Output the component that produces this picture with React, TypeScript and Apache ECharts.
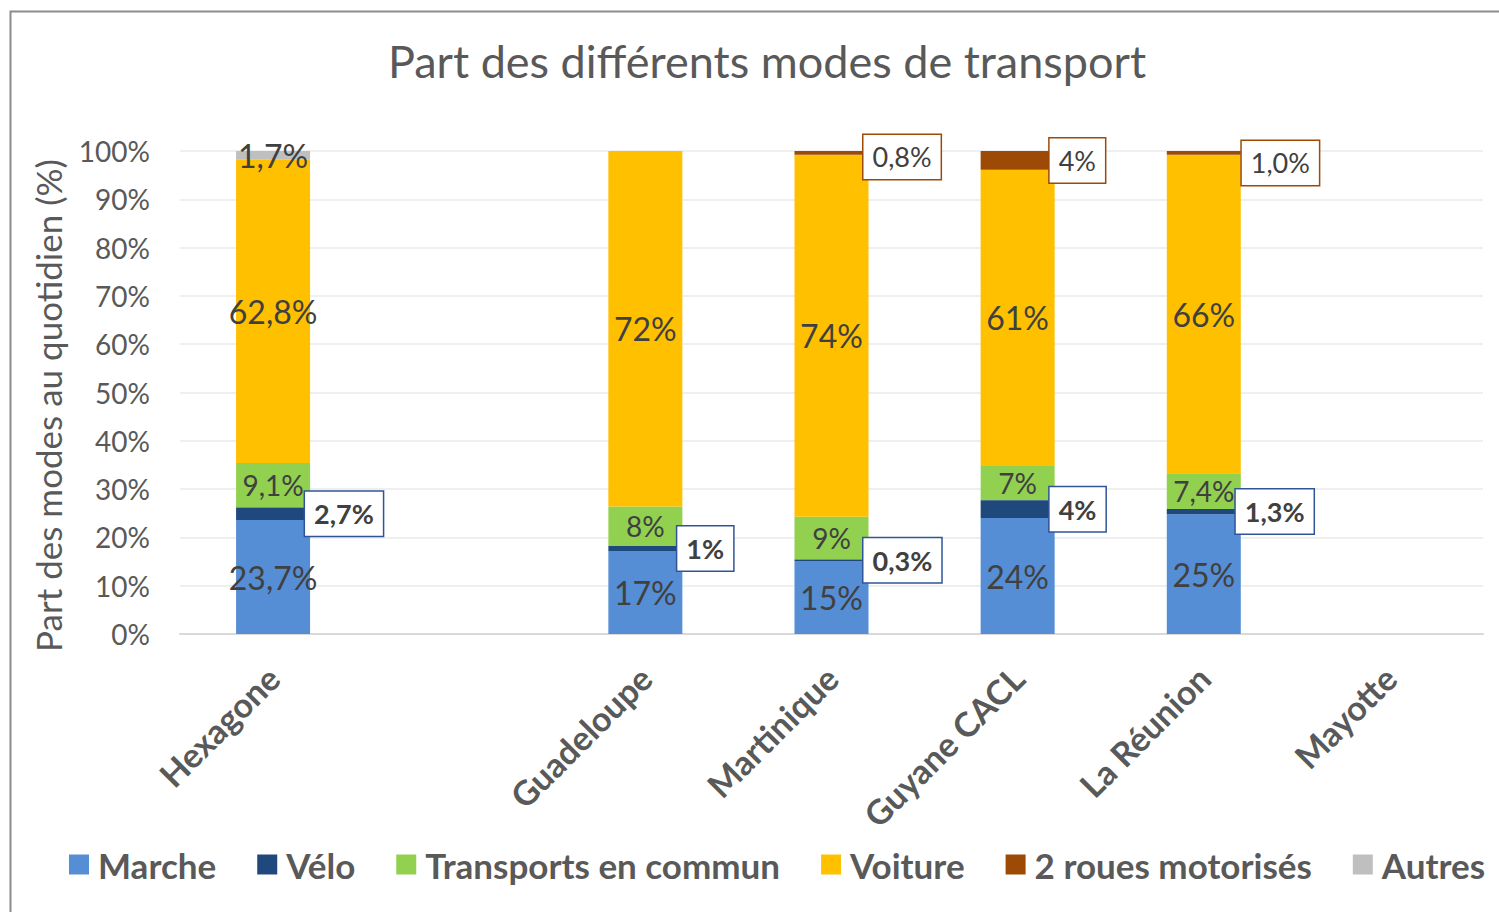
import React, { useEffect, useRef } from "react";
import * as echarts from "echarts";

const categories = ["Hexagone", "", "Guadeloupe", "Martinique", "Guyane CACL", "La Réunion", "Mayotte"];
const seriesNames = ["Marche", "Vélo", "Transports en commun", "Voiture", "2 roues motorisés", "Autres"];

const marche = [23.6, null, 17.2, 15.1, 24.0, 24.8, null];
const velo = [2.6, null, 1.0, 0.3, 3.7, 1.1, null];
const transports = [9.2, null, 8.2, 8.9, 7.1, 7.4, null];
const voiture = [62.9, null, 73.6, 74.9, 61.3, 65.9, null];
const deuxRoues = [null, null, null, 0.8, 3.9, 0.8, null];
const autres = [1.7, null, null, null, null, null, null];

const marcheLabels = ["23,7%", "", "17%", "15%", "24%", "25%", ""];
const veloLabels = ["2,7%", "", "1%", "0,3%", "4%", "1,3%", ""];
const transportsLabels = ["9,1%", "", "8%", "9%", "7%", "7,4%", ""];
const voitureLabels = ["62,8%", "", "72%", "74%", "61%", "66%", ""];
const deuxRouesLabels = ["", "", "", "0,8%", "4%", "1,0%", ""];
const autresLabels = ["1,7%", "", "", "", "", "", ""];

const yTicks = [0, 10, 20, 30, 40, 50, 60, 70, 80, 90, 100];

const colors = ["#558ED5", "#1F497D", "#92D050", "#FFC000", "#9C4A06", "#BFBFBF"];
const FONT = "Lato";

export default function App() {
  const ref = useRef<HTMLDivElement>(null);
  useEffect(() => {
    document.body.style.margin = "0";
    const chart = echarts.init(ref.current!, undefined, { renderer: "svg" });
    const fmt = (arr: string[]) => (p: any) => arr[p.dataIndex] || "";
    const inside = (arr: string[], size: number) => ({
      show: true,
      position: "inside",
      formatter: fmt(arr),
      fontFamily: FONT,
      fontSize: size,
      color: "#404040",
    });
    const boxed = (arr: string[], border: string, bold: boolean) => ({
      show: true,
      position: "right",
      distance: -5,
      formatter: fmt(arr),
      fontFamily: FONT,
      fontSize: 27,
      fontWeight: bold ? "bold" : "normal",
      color: "#404040",
      backgroundColor: "#ffffff",
      borderColor: border,
      borderWidth: 1.5,
      padding: [9, 9, 8, 9],
    });
    const values = [marche, velo, transports, voiture, deuxRoues, autres];
    const labels = [
      inside(marcheLabels, 32),
      boxed(veloLabels, "#2F5597", true),
      inside(transportsLabels, 28),
      inside(voitureLabels, 32),
      boxed(deuxRouesLabels, "#9C4A06", false),
      inside(autresLabels, 32),
    ];
    // manual label nudges (2 roues motorisés), as in the original layout
    const nudges: Record<number, number[]> = { 3: [0, 4], 5: [6, 10] };
    chart.setOption({
      animation: false,
      color: colors,
      title: {
        text: "Part des différents modes de transport",
        left: 762,
        top: 33,
        textAlign: "center",
        textStyle: { fontFamily: FONT, fontSize: 45, fontWeight: "normal", color: "#595959" },
      },
      graphic: [
        {
          type: "rect",
          shape: { x: 10.5, y: 11.5, width: 1500, height: 910 },
          style: { fill: "none", stroke: "#8C8C8C", lineWidth: 2 },
          silent: true,
        },
      ],
      legend: {
        data: seriesNames,
        left: 64,
        top: 842,
        itemWidth: 20,
        itemHeight: 20,
        itemGap: 41,
        icon: "rect",
        textStyle: { fontFamily: FONT, fontSize: 35, fontWeight: "bold", color: "#595959", padding: [0, 0, 0, 4] },
      },
      grid: { left: 180, right: 16, top: 151, bottom: 278 },
      xAxis: {
        type: "category",
        data: categories,
        axisLine: { lineStyle: { color: "#D9D9D9", width: 2 } },
        axisTick: { show: false },
        axisLabel: {
          rotate: 45,
          interval: 0,
          margin: 38,
          fontFamily: FONT,
          fontSize: 34,
          fontWeight: "bold",
          color: "#595959",
        },
      },
      yAxis: {
        type: "value",
        min: 0,
        max: 100,
        interval: 10,
        name: "Part des modes au quotidien (%)",
        nameLocation: "middle",
        nameGap: 115,
        nameTextStyle: { fontFamily: FONT, fontSize: 35, color: "#595959", padding: [0, 26, 0, 0] },
        axisLabel: {
          margin: 30,
          fontFamily: FONT,
          fontSize: 28,
          color: "#595959",
          formatter: (v: number) => (yTicks.includes(v) ? v + "%" : ""),
        },
        splitLine: { lineStyle: { color: "#EFEFEF", width: 2 } },
      },
      series: seriesNames.map((name, i) => ({
        name,
        type: "bar",
        stack: "total",
        barWidth: 74,
        data: values[i].map((v, j) =>
          i === 4 && nudges[j] ? { value: v, label: { offset: nudges[j] } } : v
        ),
        label: labels[i],
        z: i === 1 || i === 4 ? 3 : 2,
      })),
    });
    return () => chart.dispose();
  }, []);
  return <div ref={ref} style={{ width: 1499, height: 912 }} />;
}
